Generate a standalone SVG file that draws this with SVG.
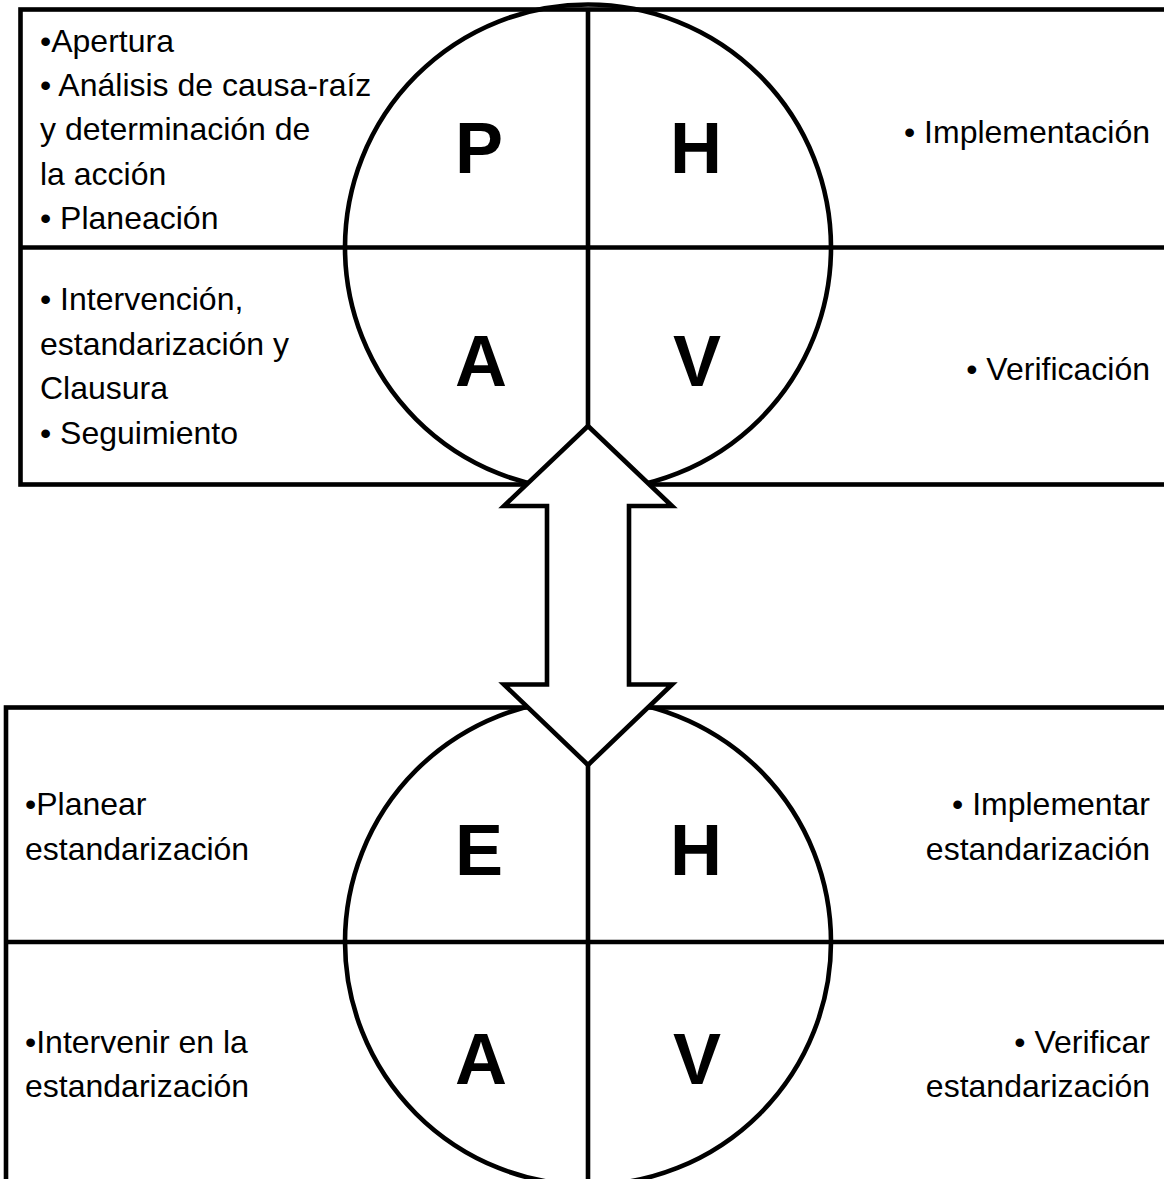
<svg xmlns="http://www.w3.org/2000/svg" width="1164" height="1179" viewBox="0 0 1164 1179">
  <style>
    .ln { fill: none; stroke: #000; stroke-width: 4.6; }
    .txt { font-family: "Liberation Sans", Arial, sans-serif; font-size: 32px; fill: #000; }
    .end { text-anchor: end; }
    .big { font-family: "Liberation Sans", Arial, sans-serif; font-size: 72px; font-weight: bold; fill: #000; text-anchor: middle; }
  </style>
  <rect width="1164" height="1179" fill="#fff"/>

  <!-- Upper PHVA cycle: frame, divider, circle -->
  <g id="cycle-phva">
    <rect class="ln" x="20.5" y="9.5" width="1160" height="475"/>
    <line class="ln" x1="20.5" y1="247.5" x2="1170" y2="247.5"/>
    <circle class="ln" cx="588" cy="247.5" r="243"/>
    <line class="ln" x1="588" y1="9.5" x2="588" y2="430"/>
  </g>

  <g id="quad-p">
    <text class="big" x="479" y="173">P</text>
    <text class="txt" x="40" y="52">•Apertura</text>
    <text class="txt" x="40" y="96">• Análisis de causa-raíz</text>
    <text class="txt" x="40" y="140">y determinación de</text>
    <text class="txt" x="40" y="185">la acción</text>
    <text class="txt" x="40" y="229">• Planeación</text>
  </g>
  <g id="quad-h">
    <text class="big" x="696" y="173">H</text>
    <text class="txt end" x="1150" y="143">• Implementación</text>
  </g>
  <g id="quad-a">
    <text class="big" x="481" y="386">A</text>
    <text class="txt" x="40" y="310">• Intervención,</text>
    <text class="txt" x="40" y="355">estandarización y</text>
    <text class="txt" x="40" y="399">Clausura</text>
    <text class="txt" x="40" y="444">• Seguimiento</text>
  </g>
  <g id="quad-v">
    <text class="big" x="697" y="386">V</text>
    <text class="txt end" x="1150" y="380">• Verificación</text>
  </g>

  <!-- Lower EHVA cycle: frame, divider, circle -->
  <g id="cycle-ehva">
    <rect class="ln" x="6" y="707.5" width="1180" height="500"/>
    <line class="ln" x1="6" y1="942" x2="1170" y2="942"/>
    <circle class="ln" cx="588" cy="942" r="243"/>
    <line class="ln" x1="588" y1="760" x2="588" y2="1185"/>
  </g>

  <g id="quad-e">
    <text class="big" x="479" y="875">E</text>
    <text class="txt" x="25" y="815">•Planear</text>
    <text class="txt" x="25" y="860">estandarización</text>
  </g>
  <g id="quad-h2">
    <text class="big" x="696" y="875">H</text>
    <text class="txt end" x="1150" y="815">• Implementar</text>
    <text class="txt end" x="1150" y="860">estandarización</text>
  </g>
  <g id="quad-a2">
    <text class="big" x="481" y="1084">A</text>
    <text class="txt" x="25" y="1053">•Intervenir en la</text>
    <text class="txt" x="25" y="1097">estandarización</text>
  </g>
  <g id="quad-v2">
    <text class="big" x="697" y="1084">V</text>
    <text class="txt end" x="1150" y="1053">• Verificar</text>
    <text class="txt end" x="1150" y="1097">estandarización</text>
  </g>

  <!-- Double-headed block arrow linking both cycles -->
  <g id="connectors">
    <polygon class="ln" style="fill:#fff" points="588,426 672,506 629,506 629,684.5 672,684.5 588,765 504,684.5 547,684.5 547,506 504,506"/>
  </g>
</svg>
